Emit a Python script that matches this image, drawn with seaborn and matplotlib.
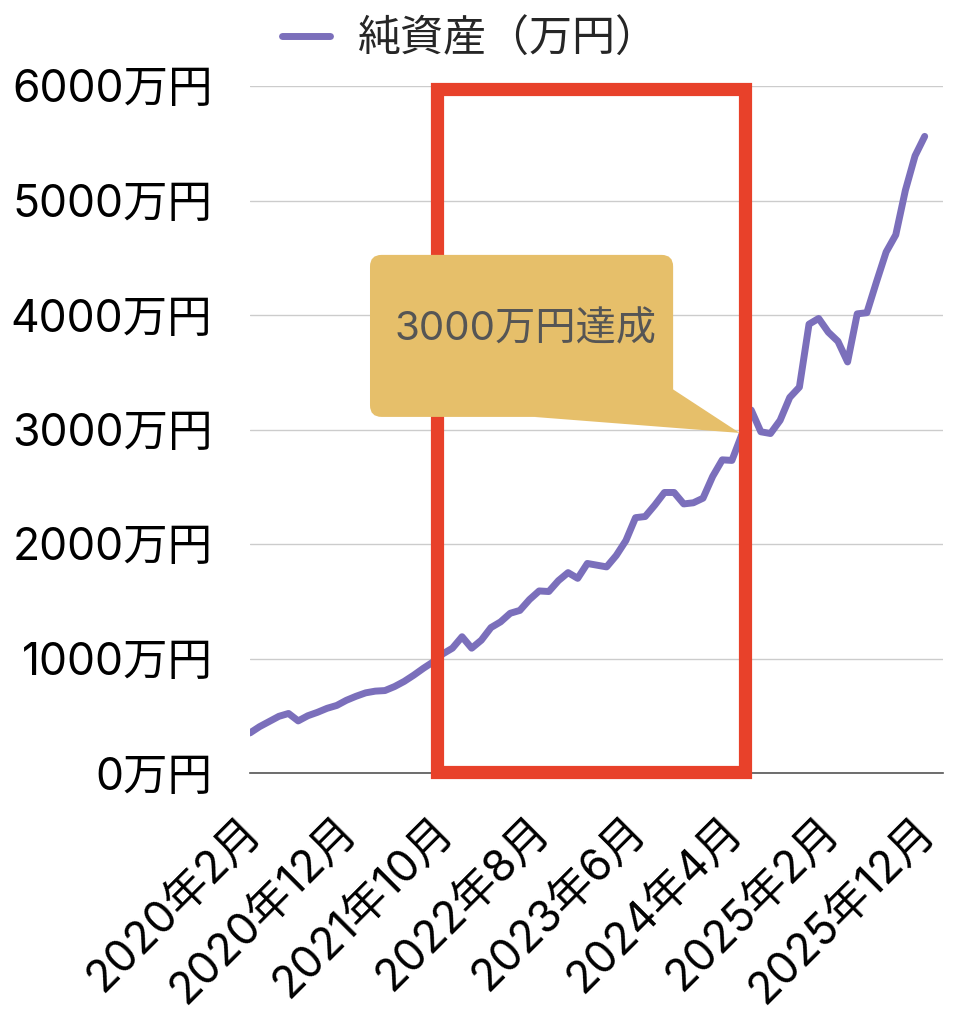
import matplotlib
matplotlib.use("Agg")
import matplotlib.pyplot as plt
from matplotlib.patches import FancyBboxPatch, Polygon, Rectangle
from matplotlib.transforms import ScaledTranslation
import numpy as np
import pandas as pd
import seaborn as sns

# monthly net worth (万円), 2020-02 .. 2025-12
months = pd.date_range("2020-02-01", periods=71, freq="MS")
net_worth = [
    350, 405, 450, 495, 520, 455, 500, 530, 565, 590,
    635, 670, 700, 715, 720, 755, 800, 855, 915, 970,
    1040, 1090, 1190, 1090, 1160, 1270, 1320, 1395, 1420, 1515,
    1590, 1585, 1680, 1750, 1700, 1830, 1815, 1800, 1900, 2030,
    2230, 2240, 2340, 2450, 2450, 2350, 2360, 2400, 2590, 2735,
    2730, 2950, 3170, 2980, 2965, 3080, 3280, 3370, 3920, 3970,
    3850, 3770, 3590, 4010, 4020, 4290, 4550, 4700, 5090, 5390,
    5560,
]
y_ticks = [0, 1000, 2000, 3000, 4000, 5000, 6000]
series_label = "純資産（万円）"
callout_text = "3000万円達成"

# highlighted period (month index) and the 3000万 point
highlight_start, highlight_end = 19.4, 51.4
goal_idx, goal_val = 50.8, 2970

LINE = "#7B6FBB"
RED = "#E8412A"
GOLD = "#E6BF6A"
FONTS = ["Inter", "Noto Sans CJK JP", "DejaVu Sans"]

df = pd.DataFrame({"idx": np.arange(len(months)), "value": net_worth})
tick_idx = list(range(0, len(months), 10))
tick_labels = [f"{months[i].year}年{months[i].month}月" for i in tick_idx]

sns.set_theme(style="white")
plt.rcParams["font.family"] = FONTS

fig = plt.figure(figsize=(9.7, 10.24), dpi=100)
ax = fig.add_axes([250 / 970, 1 - 773 / 1024, 693 / 970, 687 / 1024])

sns.lineplot(data=df, x="idx", y="value", color=LINE, linewidth=5,
             ax=ax, label=series_label, legend=False, zorder=3)

ax.set_xlim(0, 71.9)
ax.set_ylim(0, 6000)
ax.set_yticks(y_ticks)
ax.set_yticklabels([f"{v}万円" for v in y_ticks], fontsize=32)
ax.set_xticks(tick_idx)
ax.set_xticklabels(tick_labels, fontsize=32, rotation=45, ha="right",
                   rotation_mode="anchor")
ax.tick_params(axis="y", length=0, pad=27, colors="black")
ax.tick_params(axis="x", length=0, pad=26, colors="black")
shift = ScaledTranslation(-11 / 100, 0, fig.dpi_scale_trans)
for lbl in ax.get_xticklabels():
    lbl.set_transform(lbl.get_transform() + shift)
ax.grid(axis="y", color="#CCCCCC", linewidth=1)
ax.set_xlabel("")
ax.set_ylabel("")
for side in ["left", "right", "top"]:
    ax.spines[side].set_visible(False)
ax.spines["bottom"].set_color("#555555")
ax.spines["bottom"].set_linewidth(1.2)

# red highlight frame
ax.add_patch(Rectangle((highlight_start, 10), highlight_end - highlight_start, 5965,
                       fill=False, edgecolor=RED, linewidth=9.5, zorder=4,
                       clip_on=False))

# speech-bubble callout
bx0, bx1 = 12.45, 43.9
by0, by1 = 3110, 4525
ax.add_patch(FancyBboxPatch((bx0, by0), bx1 - bx0, by1 - by0,
                            boxstyle="round,pad=0,rounding_size=1.2",
                            mutation_aspect=84, facecolor=GOLD,
                            edgecolor="none", zorder=5))
ax.add_patch(Polygon([(bx1, 3350), (goal_idx, goal_val), (bx0 + 17, by0)],
                     closed=True, facecolor=GOLD, edgecolor="none", zorder=5))
ax.text((bx0 + bx1) / 2 + 0.4, 3870, callout_text, fontsize=29, color="#555555",
        ha="center", va="center", zorder=6)

fig.legend(loc="center", bbox_to_anchor=(0.485, 0.961), frameon=False,
           fontsize=31, handlelength=1.1, handletextpad=0.65)

fig.savefig("out.png", dpi=100, facecolor="white")
